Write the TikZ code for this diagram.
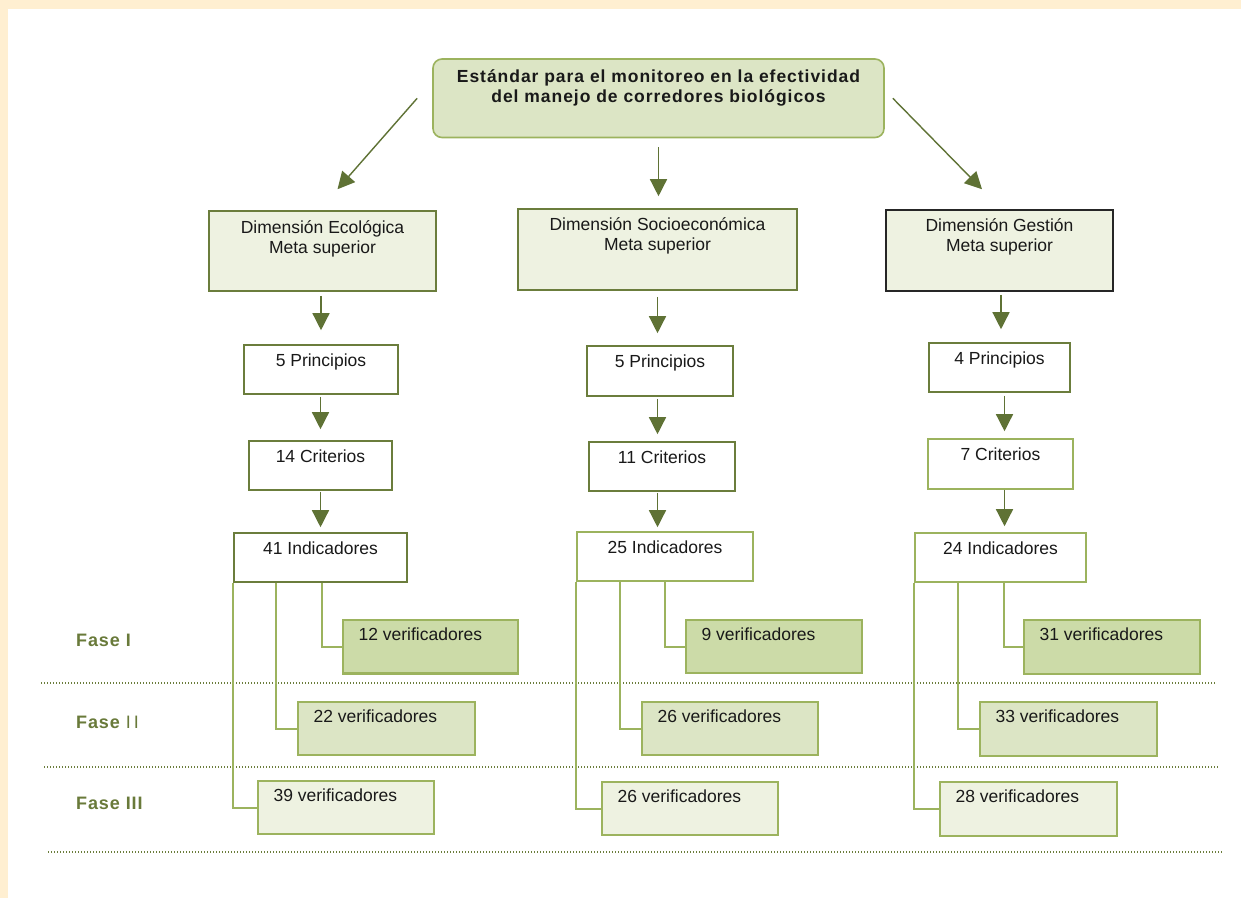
\documentclass[tikz,border=0pt]{standalone}
\usepackage{fontspec}
\setmainfont{Liberation Sans}
\newfontfamily\titlefam{Liberation Sans}[LetterSpace=5.5]
\newfontfamily\fasefam{Liberation Sans}[LetterSpace=5]
\usetikzlibrary{arrows.meta}
\definecolor{cream}{HTML}{FFEFD1}
\definecolor{darkol}{HTML}{6B7D3C}
\definecolor{arrowc}{HTML}{5F7235}
\definecolor{lightg}{HTML}{9CB35E}
\definecolor{paleg}{HTML}{EEF2E1}
\definecolor{vone}{HTML}{CCDBA8}
\definecolor{vtwo}{HTML}{DCE5C5}
\definecolor{fasec}{HTML}{697A3A}
\newcommand\nfont{\fontsize{17.5pt}{20pt}\selectfont}
\tikzset{
  box/.style={rectangle, inner sep=0pt, line width=1.6pt},
  topbox/.style={box, draw=lightg, fill=vtwo, rounded corners=9pt, line width=1.6pt},
  dimbox/.style={box, draw=darkol, fill=paleg},
  dimboxk/.style={box, draw=black!85, fill=paleg},
  wbox/.style={box, draw=darkol, fill=white},
  lbox/.style={box, draw=lightg, fill=white},
  verI/.style={box, draw=lightg, fill=vone, line width=2.2pt},
  verII/.style={box, draw=lightg, fill=vtwo, line width=2.2pt},
  verIII/.style={box, draw=lightg, fill=paleg, line width=2.2pt},
  tl/.style={anchor=base, inner sep=0pt, yshift=-22pt, font=\nfont, text=black!90},
  vl/.style={anchor=base west, inner sep=0pt, xshift=16.5pt, yshift=-22pt, font=\nfont, text=black!90},
  arr/.style={draw=arrowc, line width=1.4pt, -{Triangle[width=17pt,length=17pt]}},
  conn/.style={draw=lightg, line width=2pt},
  dotl/.style={draw=darkol, line width=1.3pt, dash pattern=on 1.3pt off 1.7pt},
  fase/.style={anchor=base west, inner sep=0pt, font=\fasefam\bfseries\fontsize{18pt}{20pt}\selectfont, text=fasec}
}
\begin{document}
\begin{tikzpicture}[x=1pt,y=-1pt]
\useasboundingbox (0,0) rectangle (1241,898);
\fill[cream] (0,0) rectangle (1241,898);
\fill[white] (8,8.7) rectangle (1241,898);

% phase separators
\draw[dotl] (41,683) -- (1216,683);
\draw[dotl] (44,767) -- (1219,767);
\draw[dotl] (48,852) -- (1222,852);

% phase labels
\node[fase] (f1) at (76,646) {Fase I};
\node[fase] (f2) at (76,728) {Fase {\mdseries I\,I}};
\node[fase] (f3) at (76,809) {Fase III};

% top
\node[topbox, minimum width=451pt, minimum height=78.5pt,
  label={[tl, yshift=-2pt, font=\titlefam\bfseries\fontsize{17.5pt}{20pt}\selectfont]north:{\begin{tabular}[t]{@{}c@{}}Estándar para el monitoreo en la efectividad\\del manejo de corredores biológicos\end{tabular}}}]
  (top) at (658.5,98.25) {};

% dimensions
\node[dimbox, minimum width=227pt, minimum height=80pt,
  label={[tl, yshift=-1pt]north:{\begin{tabular}[t]{@{}c@{}}Dimensión Ecológica\\Meta superior\end{tabular}}}]
  (dimL) at (322.5,251) {};
\node[dimbox, minimum width=279pt, minimum height=81pt,
  label={[tl]north:{\begin{tabular}[t]{@{}c@{}}Dimensión Socioeconómica\\Meta superior\end{tabular}}}]
  (dimM) at (657.5,249.5) {};
\node[dimboxk, minimum width=227pt, minimum height=81pt,
  label={[tl]north:{\begin{tabular}[t]{@{}c@{}}Dimensión Gestión\\Meta superior\end{tabular}}}]
  (dimR) at (999.5,250.5) {};

% principios
\node[wbox, minimum width=154pt, minimum height=49pt, label={[tl]north:{5 Principios}}] (prinL) at (321,369.5) {};
\node[wbox, minimum width=146pt, minimum height=50pt, label={[tl]north:{5 Principios}}] (prinM) at (660,371) {};
\node[wbox, minimum width=141pt, minimum height=49pt, label={[tl]north:{4 Principios}}] (prinR) at (999.5,367.5) {};

% criterios
\node[wbox, minimum width=143pt, minimum height=49pt, label={[tl]north:{14 Criterios}}] (critL) at (320.5,465.5) {};
\node[wbox, minimum width=146pt, minimum height=49pt, label={[tl]north:{11 Criterios}}] (critM) at (662,466.5) {};
\node[lbox, minimum width=145pt, minimum height=50pt, label={[tl]north:{7 Criterios}}] (critR) at (1000.5,464) {};

% indicadores
\node[wbox, minimum width=173pt, minimum height=49pt, label={[tl]north:{41 Indicadores}}] (indL) at (320.5,557.5) {};
\node[lbox, minimum width=176pt, minimum height=49pt, label={[tl]north:{25 Indicadores}}] (indM) at (665,556.5) {};
\node[lbox, minimum width=171pt, minimum height=49pt, label={[tl]north:{24 Indicadores}}] (indR) at (1000.5,557.5) {};

% verificadores
\node[verI, minimum width=175pt, minimum height=53.5pt, label={[vl]north west:{12 verificadores}}] (vL1) at (430.5,646.75) {};
\node[verII, minimum width=177pt, minimum height=53pt, label={[vl]north west:{22 verificadores}}] (vL2) at (386.5,728.5) {};
\node[verIII, minimum width=176pt, minimum height=53pt, label={[vl]north west:{39 verificadores}}] (vL3) at (346,807.5) {};
\node[verI, minimum width=176pt, minimum height=53pt, label={[vl]north west:{9 verificadores}}] (vM1) at (774,646.5) {};
\node[verII, minimum width=176pt, minimum height=53pt, label={[vl]north west:{26 verificadores}}] (vM2) at (730,728.5) {};
\node[verIII, minimum width=176pt, minimum height=53pt, label={[vl]north west:{26 verificadores}}] (vM3) at (690,808.5) {};
\node[verI, minimum width=176pt, minimum height=54pt, label={[vl]north west:{31 verificadores}}] (vR1) at (1112,647) {};
\node[verII, minimum width=177pt, minimum height=54pt, label={[vl]north west:{33 verificadores}}] (vR2) at (1068.5,729) {};
\node[verIII, minimum width=177pt, minimum height=54pt, label={[vl]north west:{28 verificadores}}] (vR3) at (1028.5,809) {};

% arrows from top
\draw[arr] ([xshift=-15pt]top.west) -- ([xshift=15pt,yshift=21pt]dimL.north);
\draw[arr, shorten <=9pt, shorten >=12pt] (top.south) -- (top.south |- dimM.north);
\draw[arr] ([xshift=8pt]top.east) -- ([xshift=-17.5pt,yshift=20pt]dimR.north);

% left column
\draw[arr, shorten <=4pt, shorten >=14pt] (prinL.north |- dimL.south) -- (prinL.north);
\draw[arr, shorten <=2pt, shorten >=11pt] (critL.north |- prinL.south) -- (critL.north);
\draw[arr, shorten <=1pt, shorten >=5pt] (indL.north |- critL.south) -- (indL.north);
% middle column
\draw[arr, shorten <=6pt, shorten >=12pt] (dimM.south) -- (dimM.south |- prinM.north);
\draw[arr, shorten <=2pt, shorten >=7pt] (dimM.south |- prinM.south) -- (dimM.south |- critM.north);
\draw[arr, shorten <=1pt, shorten >=4pt] (dimM.south |- critM.south) -- (dimM.south |- indM.north);
% right column
\draw[arr, shorten <=3pt, shorten >=13pt] ([xshift=1.5pt]dimR.south) -- ([xshift=1.5pt]dimR.south |- prinR.north);
\draw[arr, shorten <=3pt, shorten >=7pt] ([xshift=4pt]critR.north |- prinR.south) -- ([xshift=4pt]critR.north);
\draw[arr, shorten <=0pt, shorten >=6pt] ([xshift=4pt]indR.north |- critR.south) -- ([xshift=4pt]indR.north);

% connectors to verificadores
\draw[conn] (indL.south west) |- (vL3.west);
\draw[conn] ([xshift=43pt]indL.south west) |- (vL2.west);
\draw[conn] ([xshift=89pt]indL.south west) |- (vL1.west);
\draw[conn] (indM.south west) |- (vM3.west);
\draw[conn] ([xshift=44pt]indM.south west) |- (vM2.west);
\draw[conn] ([xshift=89pt]indM.south west) |- (vM1.west);
\draw[conn] (indR.south west) |- (vR3.west);
\draw[conn] ([xshift=44pt]indR.south west) |- (vR2.west);
\draw[conn] ([xshift=90pt]indR.south west) |- (vR1.west);
\end{tikzpicture}
\end{document}
